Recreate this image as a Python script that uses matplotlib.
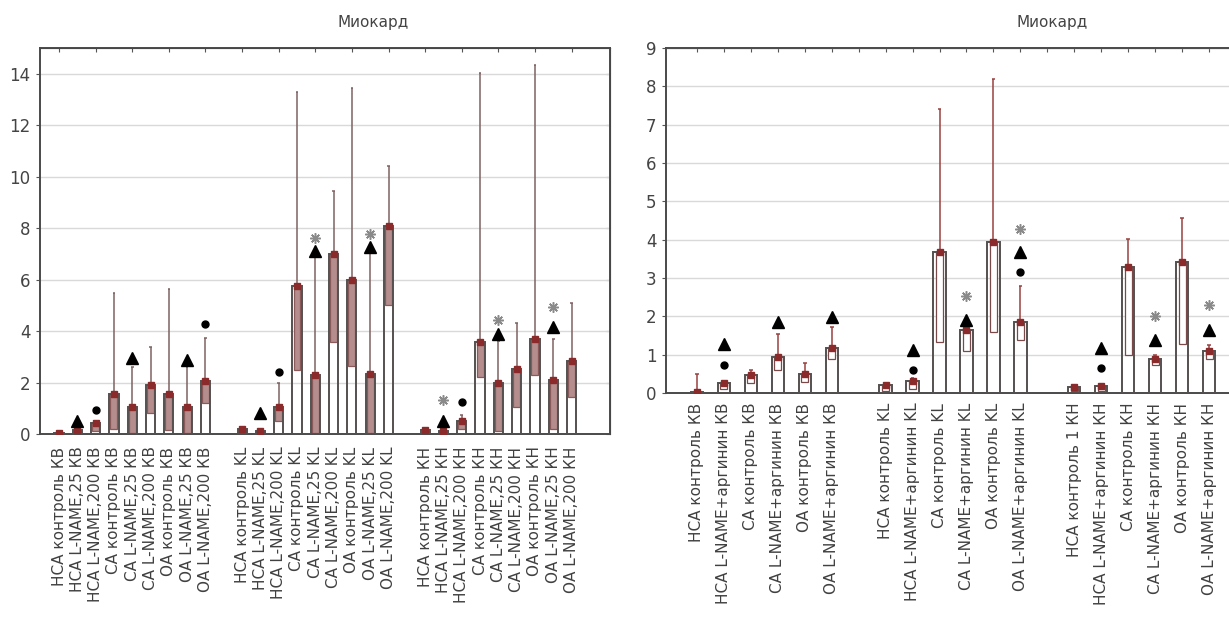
import numpy as np
import matplotlib
matplotlib.use("Agg")
import matplotlib.pyplot as plt

nan = np.nan

# ---------------- left panel data ----------------
left_labels = [
    "НСА контроль КВ", "НСА L-NAME,25 КВ", "НСА L-NAME,200 КВ",
    "СА контроль КВ", "СА L-NAME,25 КВ", "СА L-NAME,200 КВ",
    "ОА контроль КВ", "ОА L-NAME,25 КВ", "ОА L-NAME,200 КВ",
    "",
    "НСА контроль KL", "НСА L-NAME,25 KL", "НСА L-NAME,200 KL",
    "СА контроль KL", "СА L-NAME,25 KL", "СА L-NAME,200 KL",
    "ОА контроль KL", "ОА L-NAME,25 KL", "ОА L-NAME,200 KL",
    "",
    "НСА контроль КН", "НСА L-NAME,25 КН", "НСА L-NAME,200 КН",
    "СА контроль КН", "СА L-NAME,25 КН", "СА L-NAME,200 КН",
    "ОА контроль КН", "ОА L-NAME,25 КН", "ОА L-NAME,200 КН",
]
left_top = [0.05, 0.15, 0.41, 1.55, 1.03, 1.92, 1.55, 1.03, 2.05, nan,
            0.18, 0.12, 1.03, 5.75, 2.29, 6.98, 5.98, 2.35, 8.10, nan,
            0.15, 0.10, 0.50, 3.58, 1.97, 2.53, 3.70, 2.08, 2.85]
left_low = [0.0, 0.05, 0.10, 0.20, 0.05, 0.80, 0.15, 0.05, 1.20, nan,
            0.05, 0.03, 0.50, 2.50, 0.05, 3.58, 2.64, 0.05, 5.00, nan,
            0.05, 0.03, 0.20, 2.22, 0.10, 1.06, 2.29, 0.20, 1.45]
left_hi = [0.08, 0.22, 0.45, 5.48, 2.60, 3.39, 5.65, 2.60, 3.75, nan,
           0.20, 0.15, 1.97, 13.30, 7.00, 9.44, 13.45, 7.20, 10.41, nan,
           0.20, 0.15, 0.74, 14.02, 3.62, 4.30, 14.32, 3.71, 5.10]
left_tri_idx = [1, 4, 7, 11, 14, 17, 21, 24, 27]
left_tri_y = [0.52, 2.94, 2.87, 0.80, 7.10, 7.27, 0.52, 3.90, 4.17]
left_dot_idx = [2, 8, 12, 22]
left_dot_y = [0.93, 4.27, 2.42, 1.25]
left_star_idx = [14, 17, 21, 24, 27]
left_star_y = [7.63, 7.79, 1.32, 4.42, 4.94]

# ---------------- right panel data ----------------
right_labels = [
    "НСА контроль КВ", "НСА L-NAME+аргинин КВ", "СА контроль КВ",
    "СА L-NAME+аргинин КВ", "ОА контроль КВ", "ОА L-NAME+аргинин КВ",
    "",
    "НСА контроль KL", "НСА L-NAME+аргинин KL", "СА контроль KL",
    "СА L-NAME+аргинин KL", "ОА контроль KL", "ОА L-NAME+аргинин KL",
    "",
    "НСА контроль 1 КН", "НСА L-NAME+аргинин КН", "СА контроль КН",
    "СА L-NAME+аргинин КН", "ОА контроль КН", "ОА L-NAME+аргинин КН",
]
right_top = [0.02, 0.27, 0.46, 0.94, 0.50, 1.18, nan,
             0.20, 0.32, 3.68, 1.64, 3.95, 1.86, nan,
             0.15, 0.18, 3.28, 0.90, 3.42, 1.10]
right_low = [0.0, 0.10, 0.25, 0.60, 0.30, 0.90, nan,
             0.05, 0.10, 1.33, 1.10, 1.58, 1.38, nan,
             0.05, 0.05, 0.98, 0.72, 1.29, 0.90]
right_hi = [0.49, 0.30, 0.59, 1.55, 0.77, 1.72, nan,
            0.25, 0.38, 7.40, 1.78, 8.20, 2.79, nan,
            0.20, 0.22, 4.03, 1.00, 4.56, 1.25]
right_tri_idx = [1, 3, 5, 8, 10, 12, 15, 17, 19]
right_tri_y = [1.29, 1.86, 1.99, 1.13, 1.90, 3.68, 1.18, 1.38, 1.64]
right_dot_idx = [1, 8, 12, 15]
right_dot_y = [0.72, 0.60, 3.16, 0.64]
right_star_idx = [10, 12, 17, 19]
right_star_y = [2.53, 4.29, 2.00, 2.29]

TITLE = "Миокард"

W, H = 1229, 623
fig = plt.figure(figsize=(W / 100, H / 100), dpi=100)
plt.rcParams['font.family'] = ['DejaVu Sans']

def px_axes(l, r, t, b):
    return fig.add_axes([l / W, 1 - b / H, (r - l) / W, (b - t) / H])

edge = '#555050'
medc = '#8b2a2a'

def draw_panel(ax, labels, top, low, hi, tri_i, tri_y, dot_i, dot_y, st_i, st_y,
               ymax, xlim, bw, boxw, boxfill, boxedge, whisk, label_pad, tick_fs):
    n = len(labels)
    x = np.arange(n)
    top = np.array(top, float); low = np.array(low, float); hi = np.array(hi, float)
    ok = ~np.isnan(top)
    ax.set_ylim(0, ymax)
    ax.set_xlim(*xlim)
    ax.yaxis.grid(True, color='#d9d9d9', lw=1.0, zorder=0)
    ax.set_axisbelow(True)
    # whiskers
    ax.vlines(x[ok], low[ok], hi[ok], color=whisk, lw=1.1, zorder=2)
    ax.hlines(hi[ok], x[ok] - 0.07, x[ok] + 0.07, color=whisk, lw=1.1, zorder=2)
    # bars
    ax.bar(x[ok], top[ok], width=bw, facecolor='none', edgecolor=edge, lw=1.4, zorder=3)
    # boxes
    ax.bar(x[ok], (top - low)[ok], bottom=low[ok], width=boxw, facecolor=boxfill,
           edgecolor=boxedge, lw=0.9, zorder=2.5)
    # median marks
    ax.plot(x[ok], top[ok], ls='none', marker='s', ms=4, mfc=medc, mec=medc, zorder=4)
    # significance markers
    ax.plot(tri_i, tri_y, ls='none', marker='^', ms=8, color='black', zorder=5)
    ax.plot(dot_i, dot_y, ls='none', marker='o', ms=5, color='black', zorder=5)
    ax.plot(st_i, st_y, ls='none', marker=(8, 2, 0), ms=7.5, mew=1.1, color='#8a8a8a', zorder=5)
    ax.set_xticks(x)
    ax.set_xticklabels(labels, rotation=90, fontsize=tick_fs, color='#404040')
    ax.tick_params(axis='x', length=0, pad=label_pad)
    ax.tick_params(axis='y', direction='out', length=3, color='#555555',
                   labelsize=12, labelcolor='#444444', pad=4)
    for s in ax.spines.values():
        s.set_color('#4a4a4a'); s.set_linewidth(1.4)

# left panel
axL = px_axes(40, 610, 48, 434)
draw_panel(axL, left_labels, left_top, left_low, left_hi,
           left_tri_idx, left_tri_y, left_dot_idx, left_dot_y, left_star_idx, left_star_y,
           15, (-1.04, 30.1), 0.5, 0.38, '#b58d8d', '#8a5a5a', '#806262', 9, 11)
axL.set_yticks(np.arange(0, 15, 2))
axT = axL.secondary_xaxis('top')
axT.set_xticks(np.arange(0, 30, 2)); axT.set_xticklabels([])
axT.tick_params(length=3, direction='in', color='#555555')
axR = axL.secondary_yaxis('right')
axR.set_yticks(np.arange(0, 15, 2)); axR.set_yticklabels([])
axR.tick_params(length=3, direction='in', color='#555555')

# right panel
axP = px_axes(666, 1236, 48, 393)
draw_panel(axP, right_labels, right_top, right_low, right_hi,
           right_tri_idx, right_tri_y, right_dot_idx, right_dot_y, right_star_idx, right_star_y,
           9, (-1.15, 20.0), 0.46, 0.26, 'white', '#7a4a4a', '#9a4040', 7, 11)
axP.set_yticks(np.arange(0, 10, 1))
axT2 = axP.secondary_xaxis('top')
axT2.set_xticks(np.arange(0, 20, 1)); axT2.set_xticklabels([])
axT2.tick_params(length=3, direction='in', color='#555555')

fig.text(373 / W, 1 - 23 / H, TITLE, ha='center', va='center', fontsize=11, color='#444444')
fig.text(1052 / W, 1 - 23 / H, TITLE, ha='center', va='center', fontsize=11, color='#444444')

fig.savefig("out.png", dpi=100)
